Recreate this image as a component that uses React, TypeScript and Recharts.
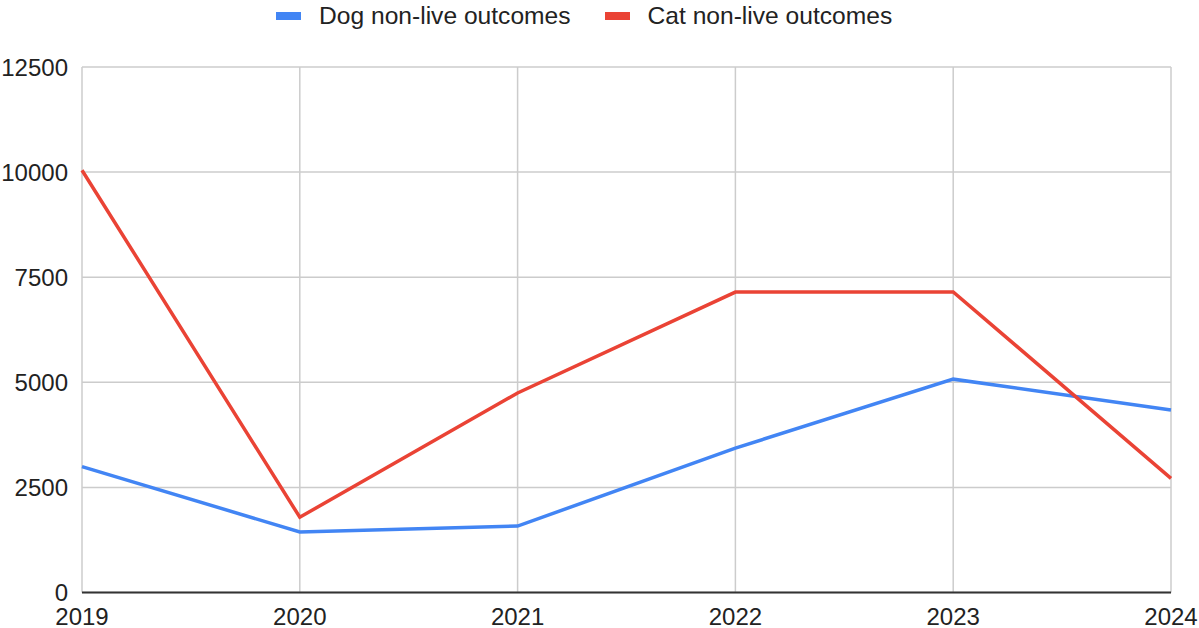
import React from "react";
import { LineChart, Line, XAxis, YAxis, CartesianGrid } from "recharts";

const years = ["2019", "2020", "2021", "2022", "2023", "2024"];
const dogNonLive = [2995, 1440, 1580, 3435, 5075, 4340];
const catNonLive = [10045, 1790, 4745, 7145, 7150, 2715];
const yTicks = [0, 2500, 5000, 7500, 10000, 12500];

const series = [
  { key: "dog", name: "Dog non-live outcomes", color: "#4285F4" },
  { key: "cat", name: "Cat non-live outcomes", color: "#EA4335" },
];

const data = years.map((y, i) => ({ year: y, dog: dogNonLive[i], cat: catNonLive[i] }));

const FONT = "'Liberation Sans', Arial, Helvetica, sans-serif";

export default function App() {
  return (
    <div style={{ position: "absolute", left: 0, top: 0, width: 1199, height: 628, background: "#fff", fontFamily: FONT }}>
      <div
        style={{
          position: "absolute",
          top: 2,
          left: 276,
          height: 28,
          display: "flex",
          alignItems: "center",
          fontSize: 24.6,
          color: "#222",
          whiteSpace: "nowrap",
        }}
      >
        {series.map((s, i) => (
          <div key={s.key} style={{ display: "flex", alignItems: "center", marginLeft: i === 0 ? 0 : 34 }}>
            <span style={{ display: "inline-block", width: 25, height: 8, background: s.color, marginRight: 18 }} />
            <span>{s.name}</span>
          </div>
        ))}
      </div>
      <LineChart
        width={1199}
        height={628}
        data={data}
        margin={{ top: 67, right: 28, bottom: 0.5, left: 0 }}
      >
        <CartesianGrid stroke="#cccccc" strokeWidth={1.5} vertical={true} />
        <XAxis
          dataKey="year"
          height={35}
          tickLine={false}
          axisLine={{ stroke: "#333", strokeWidth: 2 }}
          tickMargin={9}
          tick={{ fontSize: 24, fill: "#222", fontFamily: FONT }}
          interval={0}
        />
        <YAxis
          width={82}
          domain={[0, 12500]}
          ticks={yTicks}
          tickLine={false}
          axisLine={false}
          tickMargin={8}
          tick={{ fontSize: 24, fill: "#222", fontFamily: FONT }}
          interval={0}
        />
        {series.map((s) => (
          <Line
            key={s.key}
            type="linear"
            dataKey={s.key}
            name={s.name}
            stroke={s.color}
            strokeWidth={3.5}
            dot={false}
            activeDot={false}
            isAnimationActive={false}
          />
        ))}
      </LineChart>
    </div>
  );
}
